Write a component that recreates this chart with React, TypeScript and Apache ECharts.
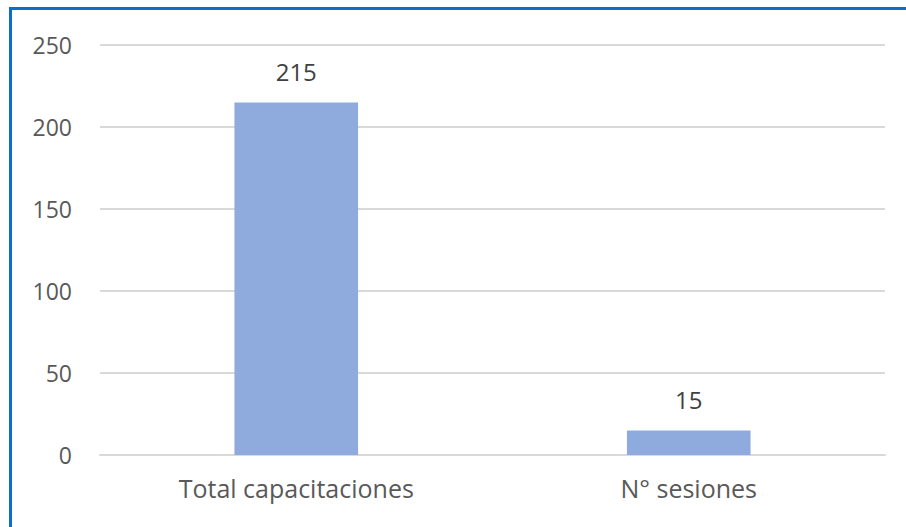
import React, { useEffect, useRef } from "react";
import * as echarts from "echarts";

const categories = ["Total capacitaciones", "N° sesiones"];
const values = [215, 15];
const yTicks = [0, 50, 100, 150, 200, 250];

export default function App() {
  const ref = useRef<HTMLDivElement>(null);
  useEffect(() => {
    const chart = echarts.init(ref.current!, null, { renderer: "svg" });
    chart.setOption({
      animation: false,
      grid: { left: 100, right: 21, top: 45, bottom: 72 },
      xAxis: {
        type: "category",
        data: categories,
        axisLine: { show: true, lineStyle: { color: "#d9d9d9", width: 2 } },
        axisTick: { show: false },
        axisLabel: { color: "#595959", fontSize: 25, fontFamily: "Open Sans", margin: 20 },
      },
      yAxis: {
        type: "value",
        min: yTicks[0],
        max: yTicks[yTicks.length - 1],
        interval: 50,
        axisLine: { show: false },
        axisTick: { show: false },
        splitLine: { lineStyle: { color: "#d9d9d9", width: 2 } },
        axisLabel: { color: "#595959", fontSize: 23, fontFamily: "Open Sans", margin: 28 },
      },
      series: [
        {
          type: "bar",
          data: values,
          barWidth: "31.5%",
          itemStyle: { color: "#8faadc" },
          label: {
            show: true,
            position: "top",
            distance: 19,
            color: "#404040",
            fontSize: 24,
            fontFamily: "Open Sans",
          },
        },
      ],
    });
    return () => chart.dispose();
  }, []);
  return (
    <div style={{ position: "fixed", left: 0, top: 0, width: 906, height: 527, background: "#fff", overflow: "hidden" }}>
      <div
        style={{
          position: "absolute",
          left: 9,
          top: 7,
          right: -10,
          bottom: -10,
          borderTop: "3px solid #0b6fc7",
          borderLeft: "3px solid #0b6fc7",
        }}
      />
      <div ref={ref} style={{ position: "absolute", left: 0, top: 0, width: 906, height: 527 }} />
    </div>
  );
}
